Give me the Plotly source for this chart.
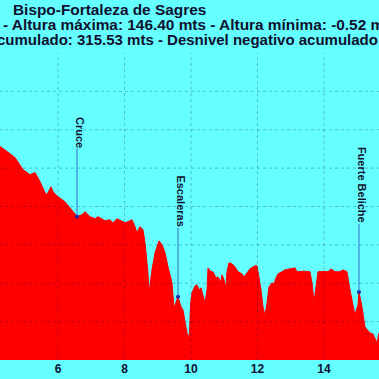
import plotly.graph_objects as go

# Elevation profile (distance in km, altitude in metres)
km = [4.20, 4.256, 4.457, 4.707, 4.948, 5.158, 5.309, 5.459, 5.609, 5.669, 5.790, 5.850,
      6.000, 6.211, 6.421, 6.572, 6.722, 6.812, 6.963, 7.113, 7.203, 7.414, 7.564,
      7.654, 7.775, 7.925, 8.015, 8.106, 8.226, 8.316, 8.376, 8.467, 8.557, 8.617,
      8.707, 8.737, 8.827, 8.918, 9.038, 9.128, 9.218, 9.309, 9.429, 9.489, 9.579,
      9.609, 9.700, 9.760, 9.850, 9.910, 9.955, 9.985, 10.030, 10.120, 10.181, 10.241,
      10.301, 10.361, 10.421, 10.482, 10.512, 10.602, 10.662, 10.752, 10.813, 10.903,
      10.933, 10.993, 11.053, 11.083, 11.143, 11.234, 11.324, 11.414, 11.534, 11.594,
      11.684, 11.775, 11.925, 11.985, 12.015, 12.106, 12.166, 12.226, 12.286, 12.346,
      12.436, 12.497, 12.557, 12.617, 12.737, 12.827, 12.950, 13.128, 13.188, 13.400,
      13.579, 13.640, 13.700, 13.790, 13.820, 14.000, 14.121, 14.211, 14.331, 14.482,
      14.572, 14.692, 14.782, 14.933, 15.023, 15.053, 15.143, 15.233, 15.384, 15.474,
      15.534, 15.594, 15.655, 15.75]
elev = [112.0, 111.4, 108.8, 105.5, 99.2, 96.6, 97.7, 93.0, 87.2, 86.2, 90.3, 87.7,
        85.1, 82.5, 78.3, 74.8, 75.7, 77.3, 74.7, 73.6, 74.7, 72.6, 73.1,
        71.5, 73.6, 72.1, 71.5, 72.1, 73.1, 69.5, 66.3, 69.5, 67.9, 61.1,
        45.4, 35.0, 47.0, 55.9, 62.1, 60.1, 55.9, 48.6, 40.2, 27.2, 31.3,
        32.9, 27.7, 26.1, 17.2, 11.5, 14.0, 28.7, 35.0, 38.6, 39.2, 36.6,
        37.6, 32.9, 29.8, 36.6, 48.0, 46.0, 46.0, 42.8, 43.3, 40.7,
        44.4, 41.8, 38.1, 46.0, 50.7, 50.1, 48.6, 46.0, 44.9, 43.3,
        45.4, 47.5, 49.1, 49.1, 46.0, 36.6, 27.7, 23.0, 29.8, 38.1,
        40.2, 39.7, 42.8, 44.9, 46.0, 47.0, 47.4, 48.0, 46.0, 46.3,
        46.0, 40.2, 30.3, 41.8, 46.0, 46.2, 46.0, 47.5, 46.0, 46.0,
        47.0, 46.0, 36.6, 23.5, 28.7, 35.5, 27.7, 17.2, 14.1, 13.6,
        11.5, 8.9, 14.1, 12.0]

# Points of interest
poi_names = ["Cruce", "Escaleras", "Fuerte Beliche"]
poi_km = [6.572, 9.609, 15.053]
poi_elev = [74.8, 32.9, 35.5]

xticks = [4, 6, 8, 10, 12, 14, 16]
yticks = [20, 40, 60, 80, 100, 120, 140]

title_lines = [
    "Bispo-Fortaleza de Sagres",
    "- Altura máxima: 146.40 mts - Altura mínima: -0.52 mts",
    "cumulado: 315.53 mts - Desnivel negativo acumulado",
]

BG = "#66ffff"
TXT = "#101030"
FONT = "Liberation Sans, Arial, sans-serif"

fig = go.Figure()
fig.add_trace(go.Scatter(x=km, y=elev, mode="lines", fill="tozeroy",
                         fillcolor="#ff0000", line=dict(color="#ff0000", width=1),
                         hoverinfo="skip"))
fig.add_trace(go.Scatter(x=poi_km, y=poi_elev, mode="markers",
                         marker=dict(color="#1a1aa0", size=4), hoverinfo="skip"))

shapes = []
grid = dict(color="rgba(0,0,90,0.25)", width=1, dash="dot")
for v in xticks:
    shapes.append(dict(type="line", xref="x", yref="paper", x0=v, x1=v, y0=0, y1=1,
                       line=grid, layer="above"))
for v in yticks:
    shapes.append(dict(type="line", xref="paper", yref="y", x0=-1, x1=2, y0=v, y1=v,
                       line=grid, layer="above"))

line_len = [68, 69, 68]
for name, xk, yv, L in zip(poi_names, poi_km, poi_elev, line_len):
    shapes.append(dict(type="line", xref="x", yref="y", ysizemode="pixel", yanchor=yv,
                       x0=xk, x1=xk, y0=0, y1=L,
                       line=dict(color="#3a6ec8", width=1), layer="above"))

annotations = []
for name, xk, yv, L in zip(poi_names, poi_km, poi_elev, line_len):
    annotations.append(dict(x=xk, y=yv, xref="x", yref="y", text="<b>" + name + "</b>",
                            showarrow=False, textangle=90, yanchor="bottom",
                            xanchor="center", yshift=L - 1, xshift=3,
                            font=dict(size=11, color=TXT, family=FONT)))

title_x = [11, 1, 380]
title_anchor = ["left", "left", "right"]
title_size = [15.4, 15.4, 15]
title_y = [10, 25, 40]
for t, px, py, xa, fs in zip(title_lines, title_x, title_y, title_anchor, title_size):
    annotations.append(dict(x=px / 379, y=(360 - py) / 307, xref="paper", yref="paper",
                            text="<b>" + t + "</b>", showarrow=False,
                            xanchor=xa, yanchor="middle",
                            font=dict(size=fs, color=TXT, family=FONT)))

fig.update_layout(
    width=379, height=379,
    margin=dict(l=0, r=0, t=53, b=19, pad=0),
    paper_bgcolor=BG, plot_bgcolor=BG,
    showlegend=False,
    shapes=shapes, annotations=annotations,
    xaxis=dict(range=[4.256, 15.655], tickvals=xticks, showgrid=False, zeroline=False,
               showline=False, ticks="", ticklen=0,
               tickfont=dict(size=12, color=TXT, family=FONT, weight="bold")),
    yaxis=dict(range=[0, 160], showgrid=False, zeroline=False, showline=False,
               showticklabels=False, ticks=""),
)

fig.write_html("out.html", config={"displayModeBar": False},
               post_script="document.body.style.margin='0';document.body.style.background='" + BG + "';")
